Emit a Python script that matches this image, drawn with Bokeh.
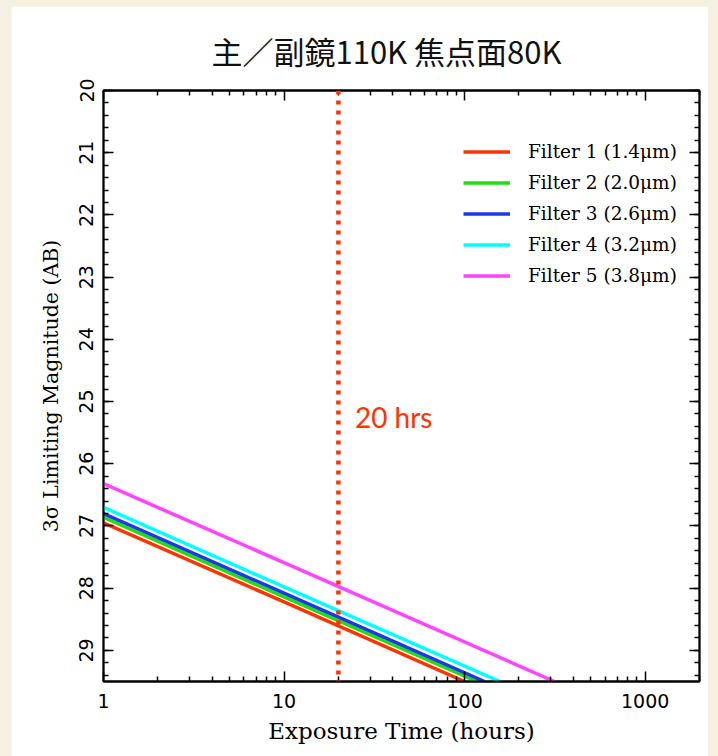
from bokeh.plotting import figure
from bokeh.models import Range1d, LinearAxis, LogAxis, FixedTicker, Span, Label, PrintfTickFormatter
from bokeh.layouts import column
from bokeh.embed import file_html
from bokeh.resources import INLINE

# Filters, their colours, and the 3-sigma limiting magnitude along each line
filters = ["Filter 1 (1.4μm)", "Filter 2 (2.0μm)", "Filter 3 (2.6μm)",
           "Filter 4 (3.2μm)", "Filter 5 (3.8μm)"]
colors = ["#ff3300", "#22dd11", "#1a3ae6", "#00ffff", "#ff44ff"]
hours = [[1, 10, 100], [1, 10, 117], [1, 10, 129], [1, 10, 157], [1, 10, 315]]
mags = [[26.95, 28.22, 29.5], [26.86, 28.14, 29.5], [26.80, 28.08, 29.5],
        [26.70, 27.98, 29.5], [26.32, 27.59, 29.5]]

x_ticks = [1, 10, 100, 1000]
x_minor = [m * d for d in (1, 10, 100, 1000) for m in range(2, 10) if m * d <= 2000]
y_ticks = list(range(20, 30))
y_minor = [round(20 + 0.2 * i, 1) for i in range(48)]

marker_hours = 20
marker_text = "20 hrs"

cream = "#f5f0e1"
red = "#ff3300"

p = figure(width=697, height=750, x_axis_type="log",
           x_range=Range1d(1, 2000), y_range=Range1d(29.5, 20),
           output_backend="svg", toolbar_location=None,
           min_border_left=92, min_border_right=9, min_border_top=84, min_border_bottom=75,
           background_fill_color="white", border_fill_color="white",
           outline_line_color="black", outline_line_width=1.8,
           margin=(6, 10, 0, 11))
p.grid.visible = False

p.title.text = "主／副鏡110K 焦点面80K"
p.title.text_font = "Noto Sans CJK JP"
p.title.text_font_size = "31px"
p.title.text_font_style = "normal"
p.title.text_color = "#111111"
p.title.align = "left"
p.title.offset = 108
p.title.standoff = 35


def style_axis(ax, labels=True):
    ax.axis_line_width = 1.8
    ax.major_tick_line_width = 1.5
    ax.minor_tick_line_width = 1.5
    ax.major_tick_in = 10
    ax.major_tick_out = 0
    ax.minor_tick_in = 5
    ax.minor_tick_out = 0
    ax.major_label_text_color = "black"
    if not labels:
        ax.major_label_text_font_size = "1px"
        ax.major_label_text_color = None
        ax.major_label_standoff = 0


# bottom / left axes
xa = p.xaxis[0]
xa.ticker = FixedTicker(ticks=x_ticks, minor_ticks=x_minor)
xa.formatter = PrintfTickFormatter(format="%d")
xa.axis_label = "Exposure Time (hours)"
xa.axis_label_text_font = "DejaVu Serif"
xa.axis_label_text_font_size = "23px"
xa.axis_label_text_font_style = "normal"
xa.axis_label_text_color = "black"
xa.axis_label_standoff = 7
xa.major_label_text_font = "DejaVu Sans"
xa.major_label_text_font_size = "19px"
xa.major_label_standoff = 12
style_axis(xa)

ya = p.yaxis[0]
ya.ticker = FixedTicker(ticks=y_ticks, minor_ticks=y_minor)
ya.axis_label = "3σ Limiting Magnitude (AB)"
ya.axis_label_text_font = "DejaVu Serif"
ya.axis_label_text_font_size = "20.5px"
ya.axis_label_text_font_style = "normal"
ya.axis_label_text_color = "black"
ya.axis_label_standoff = 14
ya.major_label_text_font = "DejaVu Sans"
ya.major_label_text_font_size = "19px"
ya.major_label_orientation = "vertical"
ya.major_label_standoff = 10
style_axis(ya)

# mirrored tick marks on the top and right edges
top = LogAxis(ticker=FixedTicker(ticks=x_ticks, minor_ticks=x_minor))
style_axis(top, labels=False)
p.add_layout(top, "above")
right = LinearAxis(ticker=FixedTicker(ticks=y_ticks, minor_ticks=y_minor))
style_axis(right, labels=False)
p.add_layout(right, "right")

for name, col, t, m in zip(filters, colors, hours, mags):
    p.line(t, m, line_color=col, line_width=3.5, legend_label=name)

p.add_layout(Span(location=marker_hours, dimension="height", line_color=red,
                  line_width=4.5, line_dash="4 6"))
p.add_layout(Label(x=24.7, y=25.25, text=marker_text, text_color=red,
                   text_font="Lato", text_font_size="28px",
                   text_baseline="alphabetic"))

lg = p.legend[0]
lg.location = (360, 390)
lg.padding = 1
lg.spacing = 0
lg.margin = 0
lg.glyph_width = 47
lg.glyph_height = 31
lg.label_height = 31
lg.label_standoff = 18
lg.label_text_font = "DejaVu Serif"
lg.label_text_font_size = "18.5px"
lg.label_text_color = "black"
lg.border_line_color = None
lg.background_fill_alpha = 0

layout = column(p, width=718, height=756, styles={"background-color": cream})
open("out.html", "w").write(file_html(layout, INLINE))
